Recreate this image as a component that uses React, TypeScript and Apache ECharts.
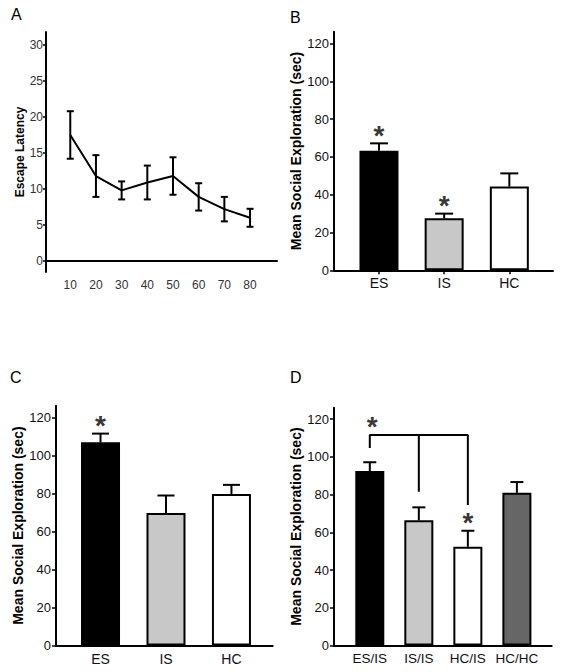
import React, { useEffect, useRef } from "react";
import * as echarts from "echarts";

// ---------- Data ----------
const latencyTrials = [10, 20, 30, 40, 50, 60, 70, 80];
const latencyMean = [17.5, 11.8, 9.8, 10.9, 11.8, 8.9, 7.2, 6.0];
const latencyErr = [3.3, 2.9, 1.25, 2.35, 2.6, 1.9, 1.7, 1.25];
const latencyTicks = [0, 5, 10, 15, 20, 25, 30];

const explorationTicks = [0, 20, 40, 60, 80, 100, 120];

const groupsB = ["ES", "IS", "HC"];
const meanB = [63.3, 27.5, 44.3];
const errB = [3.9, 2.5, 7.0];
const sigB = [true, true, false];

const groupsC = ["ES", "IS", "HC"];
const meanC = [107, 69.8, 79.8];
const errC = [4.6, 9.2, 4.8];
const sigC = [true, false, false];

const groupsD = ["ES/IS", "IS/IS", "HC/IS", "HC/HC"];
const meanD = [92.4, 66.3, 52.3, 80.9];
const errD = [4.7, 6.9, 8.5, 5.7];
const sigD = [false, false, true, false];
const bracketGroupsD = [1, 2, 3];
const bracketLevelD = 111.6;
const bracketDropsD = [104.7, 81.4, 74.4];

const colors3 = ["#000000", "#c8c8c8", "#ffffff"];
const colors4 = ["#000000", "#c8c8c8", "#ffffff", "#666666"];

const FONT = "'Liberation Sans', Arial, Helvetica, sans-serif";
const STAR_GAP = 7;

function errorSeries(axis: number, xs: number[], means: number[], errs: number[], capW: number, both: boolean) {
  return {
    type: "custom",
    xAxisIndex: axis,
    yAxisIndex: axis,
    silent: true,
    z: 4,
    data: xs.map((x, i) => [x, means[i], errs[i]]),
    renderItem: (params: any, api: any) => {
      const x = api.value(0);
      const y = api.value(1);
      const e = api.value(2);
      const top = api.coord([x, y + e]);
      const bottom = api.coord([x, both ? y - e : y]);
      const style = { stroke: "#000", lineWidth: 2 };
      const children: any[] = [
        { type: "line", shape: { x1: top[0], y1: top[1], x2: bottom[0], y2: bottom[1] }, style },
        { type: "line", shape: { x1: top[0] - capW / 2, y1: top[1], x2: top[0] + capW / 2, y2: top[1] }, style },
      ];
      if (both) {
        children.push({
          type: "line",
          shape: { x1: bottom[0] - capW / 2, y1: bottom[1], x2: bottom[0] + capW / 2, y2: bottom[1] },
          style,
        });
      }
      return { type: "group", children };
    },
  };
}

function barSeries(axis: number, means: number[], cols: string[], width: number) {
  return {
    type: "bar",
    xAxisIndex: axis,
    yAxisIndex: axis,
    barWidth: width,
    z: 2,
    data: means.map((m, i) => ({
      value: [i + 1, m],
      itemStyle: { color: cols[i], borderColor: "#000", borderWidth: 2 },
    })),
  };
}

function starSeries(axis: number, points: number[][]) {
  return {
    type: "scatter",
    xAxisIndex: axis,
    yAxisIndex: axis,
    symbolSize: 1,
    itemStyle: { color: "rgba(0,0,0,0)" },
    silent: true,
    z: 5,
    data: points,
    label: {
      show: true,
      position: "inside",
      formatter: "*",
      fontSize: 28,
      fontWeight: "bold",
      fontFamily: FONT,
      color: "#000",
      textBorderWidth: 0,
      offset: [0, 5],
    },
  };
}

function sigPoints(sig: boolean[], means: number[], errs: number[]) {
  const pts: number[][] = [];
  sig.forEach((s, i) => {
    if (s) pts.push([i + 1, means[i] + errs[i] + STAR_GAP]);
  });
  return pts;
}

const axisLineStyle = { show: true, lineStyle: { color: "#000", width: 2 } };

function barYAxis(gridIndex: number, max: number) {
  return {
    type: "value",
    gridIndex,
    min: 0,
    max,
    name: "Mean Social Exploration (sec)",
    nameLocation: "middle",
    nameRotate: 90,
    nameGap: 29,
    nameTextStyle: { fontFamily: FONT, fontWeight: "bold", fontSize: 14, color: "#000" },
    axisLine: axisLineStyle,
    axisTick: { show: true, length: 4, customValues: explorationTicks, lineStyle: { color: "#000", width: 1.5 } },
    axisLabel: { customValues: explorationTicks, fontFamily: FONT, fontSize: 13, color: "#111", margin: 5 },
    splitLine: { show: false },
  };
}

function barXAxis(gridIndex: number, min: number, max: number, groups: string[], ticks: boolean, fontSize: number) {
  const vals = groups.map((_, i) => i + 1);
  return {
    type: "value",
    gridIndex,
    min,
    max,
    axisLine: axisLineStyle,
    axisTick: { show: ticks, length: 4, customValues: vals, lineStyle: { color: "#000", width: 1.5 } },
    axisLabel: {
      customValues: vals,
      formatter: (v: number) => groups[Math.round(v) - 1] ?? "",
      fontFamily: FONT,
      fontSize,
      color: "#111",
      margin: 6,
    },
    splitLine: { show: false },
  };
}

export default function App() {
  const ref = useRef<HTMLDivElement>(null);

  useEffect(() => {
    if (!ref.current) return;
    const chart = echarts.init(ref.current, undefined, { renderer: "svg" });

    const bracketMain = [
      [bracketGroupsD[0], bracketDropsD[0]],
      [bracketGroupsD[0], bracketLevelD],
      [bracketGroupsD[2], bracketLevelD],
      [bracketGroupsD[2], bracketDropsD[2]],
    ];
    const bracketMid = [
      [bracketGroupsD[1], bracketLevelD],
      [bracketGroupsD[1], bracketDropsD[1]],
    ];

    const option: any = {
      animation: false,
      backgroundColor: "#ffffff",
      textStyle: { fontFamily: FONT },
      grid: [
        { left: 46, top: 32, width: 231, height: 240 },
        { left: 334, top: 31.7, width: 219, height: 238.6 },
        { left: 56, top: 405.7, width: 216.7, height: 239.8 },
        { left: 334, top: 407.7, width: 217.7, height: 237.8 },
      ],
      xAxis: [
        {
          type: "value",
          gridIndex: 0,
          min: 0.55,
          max: 90.5,
          axisLine: axisLineStyle,
          axisTick: { show: false },
          axisLabel: { customValues: latencyTrials, fontFamily: FONT, fontSize: 12, color: "#333", margin: 7 },
          splitLine: { show: false },
        },
        barXAxis(1, 0.31, 3.67, groupsB, true, 14),
        barXAxis(2, 0.32, 3.63, groupsC, false, 14),
        barXAxis(3, 0.27, 4.71, groupsD, false, 13.5),
      ],
      yAxis: [
        {
          type: "value",
          gridIndex: 0,
          min: -1.53,
          max: 31.8,
          name: "Escape Latency",
          nameLocation: "middle",
          nameRotate: 90,
          nameGap: 19,
          nameTextStyle: { fontFamily: FONT, fontWeight: "bold", fontSize: 12, color: "#000" },
          axisLine: axisLineStyle,
          axisTick: { show: true, length: 3, customValues: latencyTicks, lineStyle: { color: "#000", width: 1.5 } },
          axisLabel: { customValues: latencyTicks, fontFamily: FONT, fontSize: 12, color: "#333", margin: 3 },
          splitLine: { show: false },
        },
        barYAxis(1, 126.3),
        barYAxis(2, 126.3),
        barYAxis(3, 126),
      ],
      series: [
        {
          type: "line",
          xAxisIndex: 0,
          yAxisIndex: 0,
          symbol: "none",
          lineStyle: { color: "#000", width: 2 },
          data: latencyTrials.map((x, i) => [x, latencyMean[i]]),
          z: 3,
        },
        errorSeries(0, latencyTrials, latencyMean, latencyErr, 7, true),

        barSeries(1, meanB, colors3, 39),
        errorSeries(1, groupsB.map((_, i) => i + 1), meanB, errB, 18, false),
        starSeries(1, sigPoints(sigB, meanB, errB)),

        barSeries(2, meanC, colors3, 39),
        errorSeries(2, groupsC.map((_, i) => i + 1), meanC, errC, 17, false),
        starSeries(2, sigPoints(sigC, meanC, errC)),

        barSeries(3, meanD, colors4, 29),
        errorSeries(3, groupsD.map((_, i) => i + 1), meanD, errD, 13, false),
        starSeries(3, [...sigPoints(sigD, meanD, errD), [bracketGroupsD[0] + 0.05, bracketLevelD + STAR_GAP]]),
        {
          type: "line",
          xAxisIndex: 3,
          yAxisIndex: 3,
          symbol: "none",
          silent: true,
          lineStyle: { color: "#000", width: 2 },
          data: bracketMain,
          z: 4,
        },
        {
          type: "line",
          xAxisIndex: 3,
          yAxisIndex: 3,
          symbol: "none",
          silent: true,
          lineStyle: { color: "#000", width: 2 },
          data: bracketMid,
          z: 4,
        },
      ],
      graphic: [
        { type: "text", left: 11, top: 6, style: { text: "A", fontSize: 16, fontFamily: FONT, fill: "#000" } },
        { type: "text", left: 290, top: 9, style: { text: "B", fontSize: 16, fontFamily: FONT, fill: "#000" } },
        { type: "text", left: 10, top: 369, style: { text: "C", fontSize: 16, fontFamily: FONT, fill: "#000" } },
        { type: "text", left: 290, top: 369, style: { text: "D", fontSize: 16, fontFamily: FONT, fill: "#000" } },
      ],
    };

    chart.setOption(option);
    return () => chart.dispose();
  }, []);

  return (
    <div
      ref={ref}
      style={{ position: "absolute", left: 0, top: 0, width: 561, height: 672, background: "#fff" }}
    />
  );
}
